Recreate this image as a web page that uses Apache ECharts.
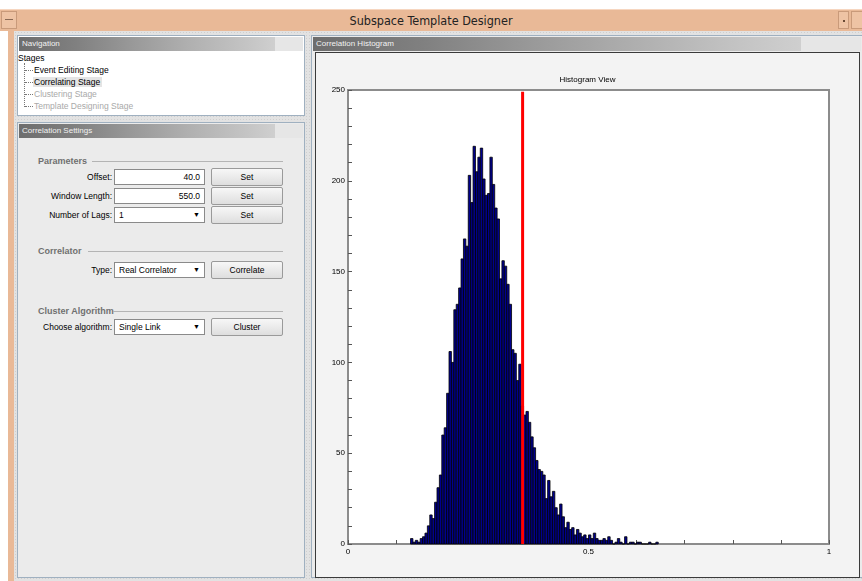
<!DOCTYPE html>
<html>
<head>
<meta charset="utf-8">
<title>Subspace Template Designer</title>
<script src="https://cdn.jsdelivr.net/npm/echarts@6/dist/echarts.min.js"></script>
<style>
  body { margin: 0; width: 862px; height: 581px; overflow: hidden; background: #fff;
         font-family: 'Liberation Sans', Arial, sans-serif; font-size: 8.5px; color: #000; position: relative; }
  .abs { position: absolute; }
  #titlebar { left: 0; top: 9px; width: 862px; height: 22px; background: #e9b997;
              border-top: 1px solid #f6d6c0; box-sizing: border-box; }
  #titlebar .txt { position: absolute; left: 0; right: 0; top: 3px; text-align: center;
                   font-family: 'DejaVu Sans Condensed', 'DejaVu Sans', sans-serif; font-stretch: condensed;
                   font-size: 12.5px; color: #222; }
  .tbtn { position: absolute; top: 1px; height: 18px; border: 1px solid #c99a7a; background: #eec3a4; box-sizing: border-box; }
  #frame { left: 8px; top: 31px; width: 854px; height: 550px; background: #e9b997; }
  #content { left: 14px; top: 31px; width: 848px; height: 550px;
             background-color: #e2e2e2;
             background-image: radial-gradient(#cfcfcf 0.6px, transparent 0.7px);
             background-size: 3px 3px; }
  .panel { position: absolute; border: 1px solid #9fb0c0; box-sizing: border-box; }
  .hdr { position: absolute; left: 1px; right: 1px; top: 1px; height: 14px; color: #f2f2f2; font-size: 8px;
         line-height: 14px; padding-left: 3px;
         background: linear-gradient(to right, #6d6d6d 0%, #808080 20%, #999 40%, #b0b0b0 60%, #c4c4c4 80%, #cfcfcf 90%, #e6e6e6 90.1%, #e6e6e6 100%); }
  .lbl { position: absolute; text-align: right; width: 100px; }
  .grp { position: absolute; font-weight: bold; color: #707070; font-size: 9px; }
  .rule { position: absolute; height: 1px; background: #b4b4b4; }
  .field { position: absolute; height: 16px; background: #fff; border: 1px solid #8a8a8a; box-sizing: border-box;
           line-height: 14px; padding: 0 4px; }
  .btn { position: absolute; height: 18px; border: 1px solid #9a9a9a; border-radius: 2px; box-sizing: border-box;
         background: linear-gradient(#f7f7f7, #dedede); text-align: center; line-height: 16px; }
  .arrow { position: absolute; right: 4px; top: 0; font-size: 7px; }
  .tree { position: absolute; white-space: nowrap; }
  .dim { color: #a9a9a9; }
  #chartBox { left: 315px; top: 52px; width: 545px; height: 526px; border: 1px solid #3a3a3a;
              box-sizing: border-box; background: #f3f3f3; }
  #chart { left: 316px; top: 53px; width: 543px; height: 524px; }
</style>
</head>
<body>
<div id="titlebar" class="abs">
  <div class="tbtn" style="left:1px;width:16px;"><div style="position:absolute;left:3px;top:7px;width:8px;height:1px;background:#8a6a55"></div></div>
  <div class="txt">Subspace Template Designer</div>
  <div class="tbtn" style="left:838px;width:11px;"><div style="position:absolute;left:4px;top:8px;width:2px;height:2px;background:#6a4a35"></div></div>
  <div class="tbtn" style="left:851px;width:12px;"></div>
</div>
<div id="frame" class="abs"></div>
<div id="content" class="abs"></div>

<!-- navigation -->
<div class="panel" style="left:17px;top:35px;width:288px;height:81px;background:#fff;">
  <div class="hdr">Navigation</div>
</div>
<div class="tree" style="left:18px;top:53px;">Stages</div>
<div class="abs" style="left:24px;top:63px;width:0;height:44px;border-left:1px dotted #777;"></div>
<div class="abs" style="left:25px;top:70px;width:8px;border-top:1px dotted #777;"></div>
<div class="abs" style="left:25px;top:82px;width:8px;border-top:1px dotted #777;"></div>
<div class="abs" style="left:25px;top:94px;width:8px;border-top:1px dotted #777;"></div>
<div class="abs" style="left:25px;top:106px;width:8px;border-top:1px dotted #777;"></div>
<div class="tree" style="left:34px;top:65px;">Event Editing Stage</div>
<div class="tree" style="left:33px;top:77px;background:#e4e4e4;padding:0 2px 0 1px;">Correlating Stage</div>
<div class="tree dim" style="left:34px;top:89px;">Clustering Stage</div>
<div class="tree dim" style="left:34px;top:101px;">Template Designing Stage</div>

<!-- correlation settings -->
<div class="panel" style="left:17px;top:122px;width:288px;height:456px;background:#ebebeb;">
  <div class="hdr">Correlation Settings</div>
</div>
<div class="grp" style="left:38px;top:156px;">Parameters</div>
<div class="rule" style="left:92px;top:161px;width:191px;"></div>
<div class="lbl" style="left:12px;top:172px;">Offset:</div>
<div class="field" style="left:114px;top:169px;width:91px;text-align:right;">40.0</div>
<div class="btn" style="left:211px;top:168px;width:72px;">Set</div>
<div class="lbl" style="left:12px;top:191px;">Window Length:</div>
<div class="field" style="left:114px;top:188px;width:91px;text-align:right;">550.0</div>
<div class="btn" style="left:211px;top:187px;width:72px;">Set</div>
<div class="lbl" style="left:12px;top:210px;">Number of Lags:</div>
<div class="field" style="left:114px;top:207px;width:91px;">1<span class="arrow">&#9660;</span></div>
<div class="btn" style="left:211px;top:206px;width:72px;">Set</div>

<div class="grp" style="left:38px;top:246px;">Correlator</div>
<div class="rule" style="left:88px;top:251px;width:195px;"></div>
<div class="lbl" style="left:12px;top:265px;">Type:</div>
<div class="field" style="left:114px;top:262px;width:91px;">Real Correlator<span class="arrow">&#9660;</span></div>
<div class="btn" style="left:211px;top:261px;width:72px;">Correlate</div>

<div class="grp" style="left:38px;top:306px;">Cluster Algorithm</div>
<div class="rule" style="left:113px;top:311px;width:170px;"></div>
<div class="lbl" style="left:12px;top:322px;">Choose algorithm:</div>
<div class="field" style="left:114px;top:319px;width:91px;">Single Link<span class="arrow">&#9660;</span></div>
<div class="btn" style="left:211px;top:318px;width:72px;">Cluster</div>

<!-- histogram panel -->
<div class="panel" style="left:311px;top:35px;width:551px;height:543px;background:#ebebeb;border-right:none;">
  <div class="hdr" style="background:linear-gradient(to right, #6d6d6d 0%, #808080 20%, #999 40%, #b0b0b0 60%, #c4c4c4 78%, #cfcfcf 89%, #e6e6e6 89.1%, #e6e6e6 100%);">Correlation Histogram</div>
</div>
<div id="chartBox" class="abs"></div>
<div id="chart" class="abs"></div>

<script>
// histogram bins: first bin starts at binStart, each bin is binWidth wide
const binStart = 0.13
const binWidth = 0.005
const counts = [
  3, 1, 2, 1, 3, 4, 6, 10, 16, 14,
  23, 31, 38, 60, 64, 83, 106, 100, 129, 132,
  141, 157, 168, 164, 203, 188, 219, 205, 213, 218,
  201, 192, 193, 213, 198, 185, 179, 146, 156, 153,
  143, 132, 107, 105, 90, 99, 76, 71, 73, 67,
  59, 53, 46, 41, 40, 38, 25, 35, 26, 29,
  20, 16, 22, 15, 9, 12, 8, 9, 5, 8,
  6, 4, 5, 3, 5, 3, 6, 3, 2, 2,
  3, 2, 4, 2, 0, 1, 3, 1, 0, 4,
  0, 1, 1, 0, 1, 1, 0, 0, 0, 1,
  0, 0, 1
]
const threshold = 0.363
const xLabels = [0, 0.5, 1]
const yMax = 250

const bins = counts.map((c, i) => {
  const lo = +(binStart + i * binWidth).toFixed(4)
  return [lo, +(lo + binWidth).toFixed(4), c]
})

const chart = echarts.init(document.getElementById('chart'))
chart.setOption({
  animation: false,
  backgroundColor: 'transparent',
  title: {
    text: 'Histogram View',
    left: 'center',
    top: 18,
    textStyle: { fontSize: 8, fontWeight: 'normal', color: '#000', fontFamily: 'Liberation Sans' }
  },
  grid: {
    left: 32,
    right: 30,
    top: 37,
    bottom: 33,
    show: true,
    backgroundColor: '#fff',
    borderColor: '#8c8c8c',
    borderWidth: 2
  },
  xAxis: {
    type: 'value',
    min: 0,
    max: 1,
    interval: 0.1,
    splitLine: { show: false },
    axisLine: { lineStyle: { color: '#8c8c8c', width: 2 } },
    axisTick: { inside: true, length: 4, lineStyle: { color: '#555' } },
    axisLabel: {
      color: '#000',
      fontSize: 8,
      margin: 4,
      fontFamily: 'Liberation Sans',
      formatter: v => (xLabels.some(t => Math.abs(t - v) < 1e-6) ? String(+v.toFixed(1)) : '')
    }
  },
  yAxis: {
    type: 'value',
    min: 0,
    max: yMax,
    interval: 50,
    splitLine: { show: false },
    axisLine: { show: true, lineStyle: { color: '#8c8c8c', width: 2 } },
    axisTick: { show: true, inside: true, length: 4, lineStyle: { color: '#555' } },
    minorTick: { show: true, splitNumber: 5, length: 4, lineStyle: { color: '#555' } },
    axisLabel: { color: '#000', fontSize: 8, margin: 3, fontFamily: 'Liberation Sans' }
  },
  series: [
    {
      type: 'custom',
      data: bins,
      encode: { x: [0, 1], y: 2 },
      renderItem: (params, api) => {
        const top = api.coord([api.value(0), api.value(2)])
        const base = api.coord([api.value(1), 0])
        return {
          type: 'rect',
          shape: { x: top[0], y: top[1], width: base[0] - top[0], height: base[1] - top[1] },
          style: { fill: '#00008e', stroke: '#000', lineWidth: 0.8 }
        }
      }
    },
    {
      type: 'line',
      data: [[threshold, 0], [threshold, yMax - 1]],
      symbol: 'none',
      lineStyle: { color: '#ff0000', width: 3 },
      z: 5
    }
  ]
})
</script>
</body>
</html>
